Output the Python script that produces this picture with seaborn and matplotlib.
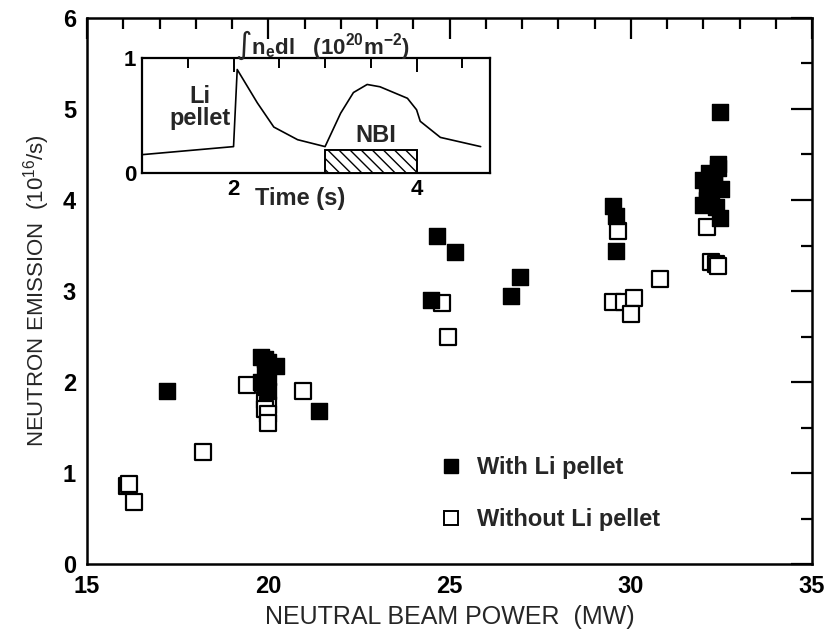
import numpy as np
import pandas as pd
import matplotlib
matplotlib.use("Agg")
import matplotlib.pyplot as plt
from matplotlib.ticker import MultipleLocator, FixedLocator
from matplotlib.lines import Line2D
from matplotlib.patches import Rectangle
import seaborn as sns

sns.set_theme(style="white")
plt.rcParams['font.family'] = ['Liberation Sans', 'DejaVu Sans']
plt.rcParams['mathtext.default'] = 'regular'

# ---- data: main scatter ----
with_x = [17.2, 19.8, 19.9, 20.0, 20.2, 19.9, 20.0, 19.8, 19.9, 20.0, 21.4,
          24.5, 24.65, 25.15, 26.7, 26.95, 29.5, 29.6, 29.6,
          32.0, 32.1, 32.2, 32.3, 32.4, 32.1, 32.2, 32.3, 32.4, 32.0, 32.5,
          32.15, 32.35, 32.45, 32.45]
with_y = [1.90, 2.27, 2.25, 2.22, 2.18, 2.10, 2.05, 2.00, 1.95, 1.90, 1.68,
          2.90, 3.60, 3.43, 2.94, 3.15, 3.93, 3.82, 3.44,
          3.95, 4.05, 4.15, 4.25, 4.40, 4.00, 4.10, 4.20, 4.35, 4.22, 4.12,
          4.30, 3.92, 4.97, 3.80]
without_x = [16.1, 16.15, 16.3, 18.2, 19.4, 19.9, 20.0, 19.9, 20.0, 20.0, 20.96,
             24.8, 24.96, 29.5, 29.65, 29.8, 30.1, 30.0, 30.8,
             32.1, 32.2, 32.35, 32.4]
without_y = [0.86, 0.88, 0.68, 1.23, 1.97, 1.80, 1.75, 1.70, 1.65, 1.55, 1.90,
             2.87, 2.49, 2.88, 3.66, 2.88, 2.92, 2.75, 3.13,
             3.70, 3.32, 3.30, 3.27]

# ---- data: inset line-integrated density trace ----
inset_t = [1.0, 2.0, 2.04, 2.26, 2.44, 2.70, 3.0, 3.17, 3.31, 3.46, 3.6,
           3.9, 4.0, 4.04, 4.26, 4.7]
inset_n = [0.16, 0.23, 0.90, 0.61, 0.40, 0.29, 0.23, 0.52, 0.70, 0.77, 0.75,
           0.65, 0.55, 0.45, 0.31, 0.23]
nbi_start, nbi_end, nbi_height = 3.0, 4.0, 0.2

df_with = pd.DataFrame({"P": with_x, "S": with_y})
df_without = pd.DataFrame({"P": without_x, "S": without_y})
df_trace = pd.DataFrame({"t": inset_t, "n": inset_n})

fig = plt.figure(figsize=(8.32, 6.41), dpi=100)
ax = fig.add_axes([0.1046, 0.120, 0.8714, 0.852])

sns.scatterplot(data=df_without, x="P", y="S", ax=ax, marker="s", s=140,
                facecolor="white", edgecolor="black", linewidth=1.6, zorder=3)
sns.scatterplot(data=df_with, x="P", y="S", ax=ax, marker="s", s=140,
                color="black", edgecolor="black", linewidth=1.0, zorder=4)

ax.set_xlim(15, 35)
ax.set_ylim(0, 6)
ax.xaxis.set_major_locator(MultipleLocator(5))
ax.xaxis.set_minor_locator(MultipleLocator(1))
ax.yaxis.set_major_locator(MultipleLocator(1))
ax.yaxis.set_minor_locator(MultipleLocator(0.5))
ax.tick_params(which="both", direction="in", top=True, right=True,
               labelsize=17, width=1.6, colors="black", pad=8)
ax.tick_params(which="major", length=15)
ax.tick_params(which="minor", length=8)
for lab in ax.get_xticklabels() + ax.get_yticklabels():
    lab.set_fontweight("bold")
for sp in ax.spines.values():
    sp.set_linewidth(1.8)
    sp.set_color("black")
ax.set_xlabel("NEUTRAL BEAM POWER  (MW)", fontsize=18, labelpad=5)
ax.set_ylabel("NEUTRON EMISSION  (10$^{16}$/s)", fontsize=16, labelpad=8)

handles = [Line2D([], [], marker="s", linestyle="none", markersize=10,
                  markerfacecolor="black", markeredgecolor="black"),
           Line2D([], [], marker="s", linestyle="none", markersize=10,
                  markerfacecolor="white", markeredgecolor="black",
                  markeredgewidth=1.4)]
leg = ax.legend(handles, ["With Li pellet", "Without Li pellet"], frameon=False,
                loc="upper left", bbox_to_anchor=(0.453, 0.237),
                prop={"size": 17, "weight": "bold"},
                labelspacing=1.25, handletextpad=0.5, handlelength=1.2)

# ---- inset ----
ins = fig.add_axes([0.1707, 0.730, 0.418, 0.1795])
sns.lineplot(data=df_trace, x="t", y="n", ax=ins, color="black", linewidth=1.2)
ins.add_patch(Rectangle((nbi_start, 0), nbi_end - nbi_start, nbi_height,
                        facecolor="white", edgecolor="black", hatch="\\\\\\",
                        linewidth=1.4, zorder=3))
ins.set_xlim(1.0, 4.8)
ins.set_ylim(0, 1)
ins.xaxis.set_major_locator(FixedLocator([2, 4]))
ins.xaxis.set_minor_locator(MultipleLocator(0.5))
ins.yaxis.set_major_locator(FixedLocator([0, 1]))
ins.yaxis.set_minor_locator(MultipleLocator(0.2))
ins.tick_params(which="both", direction="in", top=True, labelsize=16,
                width=1.4, colors="black", pad=4)
ins.tick_params(which="major", length=10)
ins.tick_params(which="minor", length=7)
for lab in ins.get_xticklabels() + ins.get_yticklabels():
    lab.set_fontweight("bold")
for sp in ins.spines.values():
    sp.set_linewidth(1.6)
    sp.set_color("black")
ins.set_xlabel("Time (s)", fontsize=17, fontweight="bold")
ins.xaxis.set_label_coords(0.454, -0.22)
ins.xaxis.label.set_va("center")
ins.set_ylabel("")
ins.text(0.167, 0.57, "Li\npellet", transform=ins.transAxes, fontsize=17,
         fontweight="bold", ha="center", va="center", linespacing=0.95)
ins.text(3.55, nbi_height + 0.03, "NBI", fontsize=17, fontweight="bold",
         ha="center", va="bottom")
fig.text(0.388, 0.93, "∫n$_e$dl   (10$^{20}$m$^{-2}$)", fontsize=16,
         fontweight="bold", ha="center", va="center")

fig.savefig("out.png", dpi=100)
